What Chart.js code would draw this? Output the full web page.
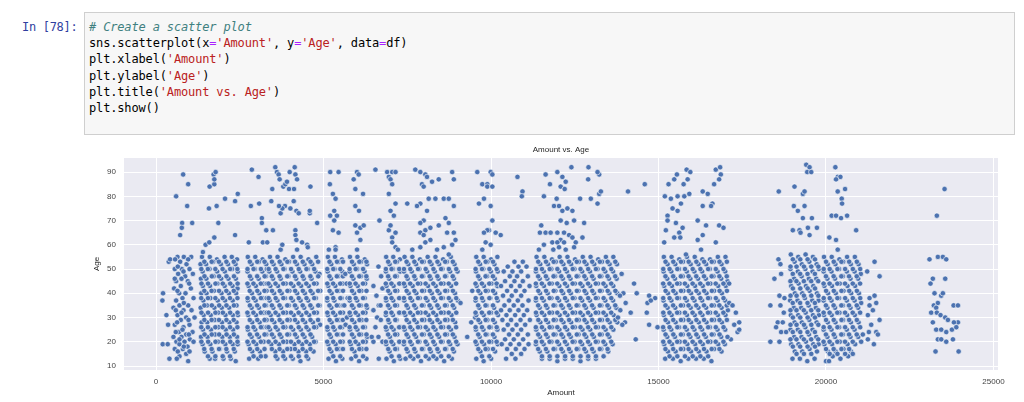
<!DOCTYPE html>
<html>
<head>
<meta charset="utf-8">
<script src="https://cdn.jsdelivr.net/npm/chart.js@4"></script>
<style>
  body { margin: 0; background: #fff; width: 1024px; height: 402px; overflow: hidden; position: relative; }
  .prompt { position: absolute; left: 22px; top: 19px; font: 12px/16.2px "DejaVu Sans Mono", monospace; letter-spacing: -0.3px; color: #303f9f; }
  .cell { position: absolute; left: 84px; top: 12px; width: 929px; height: 121px; background: #f7f7f7; border: 1px solid #cfcfcf; }
  .cell pre { margin: 0; position: absolute; left: 4px; top: 6px; font: 12px/16.2px "DejaVu Sans Mono", monospace; letter-spacing: -0.15px; color: #000; }
  .c { color: #408080; font-style: italic; }
  .s { color: #ba2121; }
  .o { color: #aa22ff; }
  #wrap { position: absolute; left: 84px; top: 140px; width: 931px; height: 262px; }
</style>
</head>
<body>
<div class="prompt">In [78]:</div>
<div class="cell"><pre><span class="c"># Create a scatter plot</span>
sns.scatterplot(x<span class="o">=</span><span class="s">'Amount'</span>, y<span class="o">=</span><span class="s">'Age'</span>, data<span class="o">=</span>df)
plt.xlabel(<span class="s">'Amount'</span>)
plt.ylabel(<span class="s">'Age'</span>)
plt.title(<span class="s">'Amount vs. Age'</span>)
plt.show()</pre></div>
<div id="wrap"><canvas id="scatter" width="931" height="262"></canvas></div>
<script>
// Axis setup
const chartTitle = "Amount vs. Age";
const xLabel = "Amount";
const yLabel = "Age";
const xTicks = [0, 5000, 10000, 15000, 20000, 25000];
const yTicks = [10, 20, 30, 40, 50, 60, 70, 80, 90];

// Points, [amount, age], grouped by amount band
// ~0-1200
const band1 = [[640,55],[830,55],[1050,55],[380,53],[720,53],[910,52],[560,50],[770,50],[1000,50],[660,48],[1100,48],[870,47],[600,45],[950,45],[740,43],[540,42],[1040,42],[210,40],[690,40],[880,40],[790,38],[1120,38],[190,37],[600,37],[960,35],[700,35],[520,34],[820,33],[1060,33],[310,31],[640,31],[900,30],[1150,30],[740,29],[360,27],[560,27],[1000,27],[820,26],[680,24],[1090,24],[900,23],[520,22],[760,22],[1010,21],[610,20],[850,20],[1120,20],[200,19],[350,19],[700,19],[940,18],[560,17],[800,17],[900,15],[700,14],[620,13],[400,13],[960,12],[420,54],[570,54],[960,54],
  [650,51],[820,49],[560,46],[760,46],[990,44],[640,41],[830,36],[590,33],[760,32],[970,29],[630,28],[790,25],[590,24],[980,23],[700,21],[830,18],[650,16],[1000,16],
  [810,89],[960,85],[600,80],[930,76],[780,69],[770,67],[720,64],[1080,69]];
// ~1300-2450
const band2 = [[1372,55],[1605,55],[1818,54],[2047,55],[2262,55],[2418,54],[1328,52],[1494,52],[1706,53],[1935,52],[2148,52],[2373,52],[1390,49],[1598,50],[1823,49],[2052,49],[2270,50],[2441,49],[1341,46],[1502,46],[1717,47],[1944,46],[2161,46],[2382,46],[1398,43],[1612,43],[1831,44],[2049,43],[2283,43],[2432,42],[1352,40],[1507,40],[1729,41],[1953,40],[2174,40],[2391,40],[1412,37],[1623,38],[1842,37],[2061,37],[2288,37],[1333,34],[1518,35],[1741,34],[1962,34],[2183,34],[2402,35],[1421,31],[1633,31],[1852,32],[2072,31],[2293,31],[2447,31],[1361,28],[1529,28],[1752,29],[1968,28],[2191,28],[2403,28],[1402,25],[1641,25],[1860,26],[2083,25],[2302,25],[1342,22],[1538,22],[1762,23],[1979,22],[2203,22],[2421,22],[1388,19],[1621,19],[1848,20],[2068,19],[2292,19],[2438,19],[1452,16],[1683,16],[1902,17],[2118,16],[2351,16],[1602,13],[1763,13],[2012,13],[2231,13],[2380,12],
  [1443,53],[1662,53],[1878,53],[2101,53],[2322,53],[1352,50],[1548,50],[1771,50],[1988,50],[2213,50],[2428,50],[1446,47],[1667,47],[1883,47],[2104,47],[2327,47],[1357,44],[1553,44],[1776,44],[1994,44],[2216,44],[2436,44],[1441,41],[1659,41],[1881,41],[2099,41],[2321,41],[1349,38],[1551,38],[1772,38],[1991,38],[2209,38],[2431,38],[1444,35],[1666,35],[1886,35],[2103,35],[2326,35],[1356,32],[1554,32],[1774,32],[1996,32],[2214,32],[2434,32],[1442,29],[1661,29],[1879,29],[2102,29],[2319,29],[1351,26],[1549,26],[1771,26],[1989,26],[2211,26],[2429,26],[1447,23],[1664,23],[1884,23],[2106,23],[2324,23],[1354,20],[1556,20],[1776,20],[1994,20],[2217,20],[2433,20],[1439,17],[1661,17],[1881,17],[2099,17],[2321,17],[1551,14],[1771,14],[1991,14],[2209,14],
  [1400,57],[1480,60],[1590,61],[1740,63],[1580,75],[1600,84],[1720,89],[1780,90],[1740,85],[1740,87],[1810,76],[1860,69],[2060,79],[2360,78],[2440,81],[2360,64]];
// ~2700-3300
const band3 = [[2740,55],[2962,55],[3181,54],[2852,52],[3071,53],[3290,52],[2731,49],[2950,50],[3172,49],[2841,46],[3063,46],[3281,47],[2762,43],[2980,43],[3202,44],[2861,40],[3082,40],[3300,41],[2743,37],[2971,37],[3190,38],[2852,34],[3070,34],[3282,35],[2751,31],[2983,31],[3211,32],[2870,28],[3092,28],[3301,29],[2742,25],[2961,25],[3180,26],[2853,22],[3072,22],[3290,23],[2762,19],[2991,19],[3212,20],[2871,16],[3102,16],[2780,13],[3050,13],[3270,14],
  [2801,53],[3022,53],[3241,53],[2731,50],[2912,50],[3131,50],[3308,50],[2803,47],[3019,47],[3243,47],[2729,44],[2909,44],[3128,44],[3311,44],[2798,41],[3024,41],[3238,41],[2733,38],[2913,38],[3133,38],[3306,38],[2802,35],[3021,35],[3242,35],[2728,32],[2908,32],[3129,32],[3309,32],[2799,29],[3023,29],[3239,29],[2732,26],[2911,26],[3132,26],[3307,26],[2801,23],[3018,23],[3241,23],[2730,20],[2912,20],[3130,20],[2803,17],[3022,17],[3239,17],[2912,14],[3131,14],
  [2770,61],[2860,91],[3060,88],[2830,76],[3080,77],[3160,71],[3160,69],[3190,61],[3320,61],[3290,66]];
// ~3350-4900
const band4 = [[3402,55],[3628,55],[3861,54],[4093,55],[4318,55],[4552,54],[4783,55],[3508,52],[3742,52],[3969,53],[4204,52],[4431,52],[4662,52],[3381,49],[3612,49],[3838,50],[4071,49],[4302,49],[4531,50],[4758,49],[4878,48],[3493,46],[3721,46],[3952,47],[4183,46],[4409,46],[4641,46],[3412,43],[3641,43],[3872,44],[4101,43],[4332,43],[4561,43],[4792,44],[3522,40],[3749,40],[3981,41],[4212,40],[4441,40],[4672,40],[4903,41],[3391,37],[3622,37],[3851,38],[4082,37],[4313,37],[4541,37],[4772,38],[3501,34],[3731,34],[3962,35],[4191,34],[4422,34],[4651,34],[4882,35],[3422,31],[3651,31],[3882,32],[4112,31],[4341,31],[4572,31],[4801,32],[3531,28],[3762,28],[3991,29],[4222,28],[4451,28],[4682,28],[4898,27],[3401,25],[3632,25],[3861,26],[4092,25],[4321,25],[4552,25],[4781,26],[3511,22],[3741,22],[3972,23],[4201,22],[4432,22],[4661,22],[3442,19],[3671,19],[3902,20],[4131,19],[4362,19],[4591,19],[4762,20],[3561,16],[3792,16],[4021,17],[4252,16],[4481,16],[4702,16],[3622,13],[3851,13],[4082,13],[4311,12],[4542,13],
  [3461,53],[3692,53],[3921,53],[4152,53],[4381,53],[4612,53],[4838,53],[3362,50],[3571,50],[3802,50],[4031,50],[4262,50],[4491,50],[4721,50],[3458,47],[3689,47],[3918,47],[4149,47],[4378,47],[4609,47],[4842,47],[3359,44],[3568,44],[3799,44],[4028,44],[4259,44],[4488,44],[4718,44],[3463,41],[3694,41],[3923,41],[4154,41],[4383,41],[4614,41],[4839,41],[3361,38],[3572,38],[3801,38],[4032,38],[4261,38],[4492,38],[4722,38],[3459,35],[3688,35],[3919,35],[4148,35],[4379,35],[4608,35],[4843,35],[3364,32],[3569,32],[3798,32],[4029,32],[4258,32],[4489,32],[4719,32],[3462,29],[3691,29],[3922,29],[4151,29],[4382,29],[4611,29],[4837,29],[3358,26],[3571,26],[3802,26],[4031,26],[4262,26],[4491,26],[4721,26],[3461,23],[3693,23],[3921,23],[4153,23],[4381,23],[4613,23],[3362,20],[3569,20],[3799,20],[4028,20],[4259,20],[4488,20],[4718,20],[3458,17],[3689,17],[3918,17],[4149,17],[4378,17],[4609,17],[3572,14],[3801,14],[4032,14],[4261,14],[4492,14],
  [3490,66],[3470,83],[3440,78],[3560,92],[3610,90],[3660,89],[3690,87],[3800,84],[3860,85],[3910,86],[3990,90],[4140,92],[4160,89],[4210,87],[3970,83],[4120,83],[4010,75],[4110,78],[4190,74],[4260,73],[3850,76],[3720,73],[3770,75],[3670,76],[4160,66],[4160,64],[4190,62],[4210,58],[3720,58],[3770,60],[4360,61],[4510,60],[4530,59],[4590,73],[4590,74],[4610,84],[4810,69]];
// ~5100-5600
const band5 = [[5130,55],[5342,55],[5551,54],[5231,52],[5452,53],[5122,49],[5331,50],[5560,49],[5222,46],[5441,47],[5141,43],[5352,43],[5570,44],[5240,40],[5461,41],[5112,37],[5322,37],[5541,38],[5232,34],[5450,35],[5131,31],[5352,31],[5580,32],[5240,28],[5462,29],[5121,25],[5330,25],[5551,26],[5220,22],[5441,23],[5142,19],[5361,19],[5570,20],[5232,16],[5460,17],[5150,13],[5372,12],[5561,13],
  [5181,53],[5402,53],[5582,53],[5111,50],[5291,50],[5502,50],[5179,47],[5399,47],[5579,47],[5113,44],[5288,44],[5499,44],[5182,41],[5403,41],[5583,41],[5110,38],[5292,38],[5503,38],[5178,35],[5398,35],[5581,35],[5114,32],[5289,32],[5501,32],[5183,29],[5401,29],[5578,29],[5112,26],[5291,26],[5498,26],[5180,23],[5402,23],[5582,23],[5109,20],[5290,20],[5502,20],[5181,17],[5399,17],[5580,17],[5291,14],[5501,14],
  [5200,90],[5450,90],[5190,85],[5280,81],[5360,79],[5320,74],[5200,72],[5400,72],[5320,70],[5280,66],[5450,65],[5360,59],[5360,58],[5160,58],
  [5650,48],[5690,44],[5620,35],[5700,30],[5660,27],[5720,38]];
// ~5770-6300
const band6 = [[5790,55],[6012,55],[6231,54],[5902,52],[6121,53],[6300,52],[5781,49],[6002,50],[6222,49],[5891,46],[6112,47],[6290,46],[5802,43],[6021,43],[6242,44],[5910,40],[6131,41],[5782,37],[6003,37],[6230,38],[5892,34],[6110,35],[6300,34],[5801,31],[6032,31],[6251,32],[5920,28],[6142,29],[5791,25],[6010,25],[6232,26],[5902,22],[6121,23],[6300,22],[5812,19],[6041,19],[6260,20],[5922,16],[6140,17],[5830,13],[6062,12],[6281,13],
  [5851,53],[6072,53],[6282,53],[5779,50],[5961,50],[6182,50],[5849,47],[6069,47],[6279,47],[5782,44],[5958,44],[6179,44],[5852,41],[6071,41],[6283,41],[5778,38],[5962,38],[6181,38],[5848,35],[6068,35],[6281,35],[5781,32],[5959,32],[6178,32],[5853,29],[6073,29],[6278,29],[5779,26],[5961,26],[6182,26],[5851,23],[6069,23],[6282,23],[5782,20],[5958,20],[6179,20],[5849,17],[6071,17],[6280,17],[5961,14],[6181,14],
  [5900,87],[6000,90],[6050,89],[5950,83],[6180,81],[5950,76],[6060,74],[5950,68],[6100,67],[6200,68],[6000,65],[6100,62],[6000,58]];
// ~6400-6760 sparse strip
const band7 = [[6490,43],[6580,39],[6650,35],[6490,33],[6700,35],[6600,30],[6710,29],[6550,26],[6640,22],[6760,42],[6720,47],[6640,51],[6490,20],[6440,22],[6650,13],[6550,91],[6670,70],[6760,20]];
// ~6850-7300
const band8 = [[6870,55],[7082,55],[7280,54],[6972,52],[7191,53],[6861,49],[7070,50],[7290,49],[6960,46],[7182,47],[6881,43],[7092,43],[7300,44],[6980,40],[7201,41],[6872,37],[7080,37],[7281,38],[6970,34],[7190,35],[6861,31],[7072,31],[7290,32],[6962,28],[7180,29],[6880,25],[7091,25],[7300,26],[6981,22],[7200,23],[6872,19],[7081,19],[7280,20],[6970,16],[7192,17],[6880,13],[7100,12],[7290,13],
  [6931,53],[7142,53],[6862,50],[7031,50],[7259,50],[6929,47],[7139,47],[6859,44],[7028,44],[7262,44],[6932,41],[7141,41],[6861,38],[7032,38],[7258,38],[6928,35],[7138,35],[6863,32],[7029,32],[7261,32],[6931,29],[7143,29],[6858,26],[7031,26],[7259,26],[6929,23],[7139,23],[6862,20],[7028,20],[7262,20],[6932,17],[7141,17],[7031,14],[7259,14],
  [6900,90],[7050,90],[7150,90],[6950,88],[7000,87],[7050,85],[6950,81],[7150,77],[7000,74],[7100,72],[6950,66],[7050,63],[7150,65],[7000,68],[7050,61],[7150,59],[7220,58]];
// ~7400-9000
const band9 = [[7420,55],[7652,55],[7881,54],[8110,55],[8342,55],[8571,54],[8800,55],[7530,52],[7761,52],[7990,53],[8222,52],[8450,52],[8681,53],[8910,52],[7400,49],[7632,49],[7860,50],[8091,49],[8320,49],[8552,50],[8780,49],[9000,49],[7512,46],[7740,46],[7971,47],[8200,46],[8432,46],[8660,47],[8891,46],[7430,43],[7662,43],[7890,44],[8121,43],[8350,43],[8582,44],[8810,43],[7541,40],[7770,40],[8002,41],[8230,40],[8461,40],[8690,41],[8922,40],[7410,37],[7641,37],[7872,38],[8100,37],[8331,37],[8560,38],[8792,37],[9010,37],[7520,34],[7752,34],[7980,35],[8211,34],[8440,34],[8672,35],[8900,34],[7442,31],[7670,31],[7901,32],[8130,31],[8362,31],[8590,32],[8821,31],[7550,28],[7781,28],[8010,29],[8242,28],[8470,28],[8701,29],[8930,28],[7421,25],[7650,25],[7882,26],[8110,25],[8341,25],[8570,26],[8802,25],[7530,22],[7762,22],[7990,23],[8221,22],[8450,22],[8682,23],[8910,22],[7400,19],[7631,19],[7860,20],[8092,19],[8320,19],[8551,20],[8780,19],[9000,19],[7511,16],[7740,16],[7972,17],[8200,16],[8431,16],[8660,17],[8892,16],[7450,13],[7681,13],[7910,12],[8142,13],[8370,13],[8601,12],[8830,13],
  [7481,53],[7712,53],[7941,53],[8172,53],[8401,53],[8632,53],[8861,53],[7402,50],[7591,50],[7822,50],[8051,50],[8282,50],[8511,50],[8742,50],[8962,50],[7478,47],[7709,47],[7938,47],[8169,47],[8398,47],[8629,47],[8858,47],[7399,44],[7588,44],[7819,44],[8048,44],[8279,44],[8508,44],[8739,44],[8959,44],[7483,41],[7714,41],[7943,41],[8174,41],[8403,41],[8634,41],[8863,41],[7401,38],[7592,38],[7821,38],[8052,38],[8281,38],[8512,38],[8741,38],[8961,38],[7479,35],[7708,35],[7939,35],[8168,35],[8399,35],[8628,35],[8859,35],[7404,32],[7589,32],[7818,32],[8049,32],[8278,32],[8509,32],[8738,32],[8963,32],[7482,29],[7711,29],[7942,29],[8171,29],[8402,29],[8631,29],[8862,29],[7398,26],[7591,26],[7822,26],[8051,26],[8282,26],[8511,26],[8741,26],[8958,26],[7481,23],[7713,23],[7941,23],[8173,23],[8401,23],[8633,23],[8861,23],[7402,20],[7589,20],[7819,20],[8048,20],[8279,20],[8508,20],[8738,20],[8962,20],[7478,17],[7709,17],[7938,17],[8169,17],[8398,17],[8629,17],[8858,17],[7592,14],[7821,14],[8052,14],[8281,14],[8512,14],[8741,14],
  [7740,91],[7890,90],[8040,89],[8090,88],[7940,85],[7990,84],[8240,86],[8440,87],[8840,90],[8890,87],[7500,77],[7890,77],[7790,76],[8140,79],[8340,79],[8590,79],[8740,79],[8890,76],[8090,74],[7990,70],[7890,69],[8040,66],[8190,67],[8440,68],[8640,71],[8740,69],[7890,65],[7990,64],[8190,62],[8690,65],[8890,65],[8940,62],[7890,59],[7650,58],[8390,58],[8590,59],[8840,60],[8040,61],[8740,56],
  [9090,36],[9440,41],[9410,28],[9290,22],[9530,30]];
// ~9540-10200
const band10 = [[9560,55],[9782,55],[10001,54],[10190,55],[9672,52],[9890,53],[10101,52],[9551,49],[9770,50],[9992,49],[10200,49],[9660,46],[9882,47],[10110,46],[9571,43],[9790,43],[10012,44],[10190,43],[9680,40],[9901,41],[10120,40],[9540,37],[9762,37],[9980,38],[10200,37],[9651,34],[9870,35],[10092,34],[9560,31],[9781,31],[10000,32],[10210,31],[9672,28],[9890,29],[10110,28],[9550,25],[9772,25],[9991,26],[10190,25],[9661,22],[9880,23],[10102,22],[9570,19],[9791,19],[10010,20],[10200,19],[9682,16],[9900,17],[10121,16],[9560,13],[9780,12],[10002,13],
  [9621,53],[9842,53],[10061,53],[9541,50],[9731,50],[9952,50],[10171,50],[9619,47],[9839,47],[10058,47],[9538,44],[9729,44],[9949,44],[10168,44],[9622,41],[9843,41],[10062,41],[9542,38],[9732,38],[9951,38],[10172,38],[9618,35],[9838,35],[10059,35],[9539,32],[9728,32],[9948,32],[10169,32],[9623,29],[9841,29],[10063,29],[9541,26],[9731,26],[9952,26],[10171,26],[9619,23],[9842,23],[10058,23],[9538,20],[9729,20],[9949,20],[10168,20],[9621,17],[9839,17],[10061,17],[9731,14],[9951,14],
  [9590,90],[9740,85],[9890,85],[9990,90],[10040,89],[9890,84],[10040,84],[9790,79],[9640,77],[9990,76],[9940,66],[9890,66],[9790,65],[10040,70],[10140,65],[10290,64],[9840,61],[9990,60],[9740,58]];
// ~10300-11200
const band11 = [[10700,53],[10950,53],[10500,51],[10820,51],[11060,51],[10380,49],[10640,49],[10900,49],[10560,47],[10780,47],[11100,47],[10420,45],[10700,45],[10950,45],[10300,43],[10600,43],[10860,43],[11150,43],[10480,41],[10740,41],[11000,41],[10360,39],[10620,39],[10900,39],[10540,37],[10800,37],[11120,37],[10400,35],[10680,35],[10940,35],[10300,33],[10560,33],[10820,33],[11080,33],[10460,31],[10720,31],[10980,31],[10340,29],[10600,29],[10880,29],[11160,29],[10500,27],[10760,27],[11020,27],[10380,25],[10640,25],[10900,25],[10540,23],[10800,23],[11100,23],[10420,21],[10680,21],[10960,21],[10320,19],[10580,19],[10840,19],[11120,19],[10480,17],[10740,17],[11000,17],[10620,15],[10900,15],[10450,13],[10730,13],
  [10790,88],[10940,82],[10920,80]];
// ~11330-14000
const band12 = [[11360,55],[11592,55],[11821,54],[12050,55],[12282,55],[12511,54],[12740,55],[12972,55],[13201,54],[13430,55],[13652,55],[11470,52],[11701,52],[11932,53],[12160,52],[12391,52],[12622,53],[12850,52],[13081,52],[13312,53],[13540,52],[13761,52],[11340,49],[11572,49],[11801,50],[12030,49],[12262,49],[12491,50],[12720,49],[12952,49],[13181,50],[13410,49],[13642,49],[11452,46],[11680,46],[11911,47],[12142,46],[12370,46],[12601,47],[12832,46],[13060,46],[13291,47],[13522,46],[13750,46],[11350,43],[11581,43],[11812,44],[12040,43],[12271,43],[12502,44],[12730,43],[12961,43],[13192,44],[13420,43],[13651,43],[11462,40],[11690,40],[11921,41],[12152,40],[12380,40],[12611,41],[12842,40],[13070,40],[13301,41],[13532,40],[13770,40],[11340,37],[11571,37],[11802,38],[12030,37],[12261,37],[12492,38],[12720,37],[12951,37],[13182,38],[13410,37],[13641,37],[11452,34],[11680,34],[11911,35],[12142,34],[12370,34],[12601,35],[12832,34],[13060,34],[13291,35],[13522,34],[13740,34],[11360,31],[11591,31],[11822,32],[12050,31],[12281,31],[12512,32],[12740,31],[12971,31],[13202,32],[13430,31],[13661,31],[11472,28],[11700,28],[11931,29],[12162,28],[12390,28],[12621,29],[12852,28],[13080,28],[13311,29],[13542,28],[13770,28],[11350,25],[11581,25],[11812,26],[12040,25],[12271,25],[12502,26],[12730,25],[12961,25],[13192,26],[13420,25],[13651,25],[11462,22],[11690,22],[11921,23],[12152,22],[12380,22],[12611,23],[12842,22],[13070,22],[13301,23],[13532,22],[11340,19],[11571,19],[11802,20],[12030,19],[12261,19],[12492,20],[12720,19],[12951,19],[13182,20],[13410,19],[13630,19],[11452,16],[11680,16],[11911,17],[12142,16],[12370,16],[12601,17],[12832,16],[13060,16],[13291,17],[13500,16],[11520,13],[11752,13],[11981,12],[12210,13],[12442,13],[12671,12],[12900,13],[13132,13],
  [11411,53],[11642,53],[11871,53],[12102,53],[12331,53],[12562,53],[12791,53],[13022,53],[13251,53],[13482,53],[13711,53],[11342,50],[11521,50],[11752,50],[11981,50],[12212,50],[12441,50],[12672,50],[12901,50],[13132,50],[13361,50],[13592,50],[11408,47],[11639,47],[11868,47],[12099,47],[12328,47],[12559,47],[12788,47],[13019,47],[13248,47],[13479,47],[13708,47],[11339,44],[11518,44],[11749,44],[11978,44],[12209,44],[12438,44],[12669,44],[12898,44],[13129,44],[13358,44],[13589,44],[11413,41],[11644,41],[11873,41],[12104,41],[12333,41],[12564,41],[12793,41],[13024,41],[13253,41],[13484,41],[13713,41],[11341,38],[11522,38],[11751,38],[11982,38],[12211,38],[12442,38],[12671,38],[12902,38],[13131,38],[13362,38],[13591,38],[11409,35],[11638,35],[11869,35],[12098,35],[12329,35],[12558,35],[12789,35],[13018,35],[13249,35],[13478,35],[13709,35],[11343,32],[11519,32],[11748,32],[11979,32],[12208,32],[12439,32],[12668,32],[12899,32],[13128,32],[13359,32],[13588,32],[11412,29],[11641,29],[11872,29],[12101,29],[12332,29],[12561,29],[12792,29],[13021,29],[13252,29],[13481,29],[13712,29],[11338,26],[11521,26],[11752,26],[11981,26],[12212,26],[12441,26],[12672,26],[12901,26],[13132,26],[13361,26],[13592,26],[11411,23],[11643,23],[11871,23],[12103,23],[12331,23],[12563,23],[12791,23],[13023,23],[13251,23],[13483,23],[11342,20],[11519,20],[11749,20],[11978,20],[12209,20],[12438,20],[12669,20],[12898,20],[13129,20],[13358,20],[13589,20],[11408,17],[11639,17],[11868,17],[12099,17],[12328,17],[12559,17],[12788,17],[13019,17],[13248,17],[13479,17],[11521,14],[11752,14],[11981,14],[12212,14],[12441,14],[12672,14],[12901,14],[13132,14],[13361,14],
  [12400,92],[12910,92],[11630,89],[11980,90],[12130,88],[12230,86],[11760,85],[12080,84],[12200,83],[11580,80],[11960,79],[11880,76],[12030,76],[12130,74],[12280,75],[12430,74],[12660,79],[12980,79],[13180,77],[13230,81],[13280,82],[13230,89],[13180,90],[12900,87],[12080,70],[12260,69],[12480,70],[12780,69],[11500,68],[11460,65],[11630,65],[11780,65],[11980,65],[12180,65],[12330,64],[12430,63],[12730,63],[12080,62],[11830,61],[11980,61],[11580,60],[12180,61],[12530,61],[11860,58],[12230,58],[11430,58],[12030,59],[12480,59],
  [13900,48],[13950,40],[13860,33],[14000,28]];
// ~13800-15000 sparse strip
const band13 = [[14090,82],[14590,85],[14270,44],[14350,40],[14720,39],[14900,38],[14670,36],[14770,37],[13850,39],[14020,36],[14170,32],[14650,32],[14720,27],[14970,26],[13920,27],[13790,30],[14320,21]];
// ~15130-17450
const band14 = [[15160,55],[15392,55],[15621,54],[15850,55],[16082,55],[16311,54],[16540,54],[16772,55],[17000,55],[15270,52],[15501,52],[15732,53],[15960,52],[16191,52],[16422,52],[16650,53],[16881,52],[15152,49],[15380,49],[15611,50],[15842,49],[16070,49],[16301,49],[16532,50],[16760,49],[16991,49],[15261,46],[15490,46],[15722,47],[15950,46],[16181,46],[16412,46],[16640,47],[16871,46],[17060,45],[15170,43],[15402,43],[15631,44],[15860,43],[16092,43],[16321,43],[16550,44],[16782,43],[17010,43],[15281,40],[15510,40],[15742,41],[15970,40],[16201,40],[16432,40],[16660,41],[16891,40],[15150,37],[15382,37],[15611,38],[15840,37],[16072,37],[16301,37],[16530,38],[16762,37],[16990,37],[15271,34],[15500,34],[15732,35],[15960,34],[16191,34],[16422,34],[16650,35],[16881,34],[17070,33],[15160,31],[15392,31],[15621,32],[15850,31],[16082,31],[16311,31],[16540,32],[16772,31],[17000,31],[15281,28],[15510,28],[15742,29],[15970,28],[16201,28],[16432,28],[16660,29],[16891,28],[15152,25],[15380,25],[15611,26],[15842,25],[16070,25],[16301,25],[16532,26],[16760,25],[16991,25],[15261,22],[15490,22],[15722,23],[15950,22],[16181,22],[16412,22],[16640,23],[16871,22],[15170,19],[15402,19],[15631,20],[15860,19],[16092,19],[16321,19],[16550,20],[16782,19],[16980,19],[15281,16],[15510,16],[15742,17],[15970,16],[16201,16],[16432,16],[16660,17],[16880,16],[15200,13],[15431,13],[15662,12],[15890,13],[16121,13],[16352,13],[16580,12],
  [15211,53],[15442,53],[15671,53],[15902,53],[16131,53],[16362,53],[16591,53],[16822,53],[17041,53],[15142,50],[15331,50],[15562,50],[15791,50],[16022,50],[16251,50],[16482,50],[16711,50],[16942,50],[15208,47],[15439,47],[15668,47],[15899,47],[16128,47],[16359,47],[16588,47],[16819,47],[17038,47],[15139,44],[15328,44],[15559,44],[15788,44],[16019,44],[16248,44],[16479,44],[16708,44],[16939,44],[15213,41],[15444,41],[15673,41],[15904,41],[16133,41],[16364,41],[16593,41],[16824,41],[17043,41],[15141,38],[15332,38],[15561,38],[15792,38],[16021,38],[16252,38],[16481,38],[16712,38],[16941,38],[15209,35],[15438,35],[15669,35],[15898,35],[16129,35],[16358,35],[16589,35],[16818,35],[17039,35],[15143,32],[15329,32],[15558,32],[15789,32],[16018,32],[16249,32],[16478,32],[16709,32],[16938,32],[15212,29],[15441,29],[15672,29],[15901,29],[16132,29],[16361,29],[16592,29],[16821,29],[17042,29],[15138,26],[15331,26],[15562,26],[15791,26],[16022,26],[16251,26],[16482,26],[16711,26],[16942,26],[15211,23],[15443,23],[15671,23],[15903,23],[16131,23],[16363,23],[16591,23],[16823,23],[15142,20],[15329,20],[15559,20],[15788,20],[16019,20],[16248,20],[16479,20],[16708,20],[16939,20],[15208,17],[15439,17],[15668,17],[15899,17],[16128,17],[16359,17],[16588,17],[16819,17],[15331,14],[15562,14],[15791,14],[16022,14],[16251,14],[16482,14],
  [15300,85],[15470,87],[15550,89],[15840,91],[15950,90],[15870,87],[15750,85],[15190,80],[15370,79],[15570,80],[15770,80],[15920,81],[16320,82],[16470,81],[16710,91],[16840,92],[16860,89],[16810,87],[16660,85],[16610,77],[16320,76],[16570,76],[15420,75],[15570,74],[15670,77],[15270,72],[15520,69],[15270,70],[15720,67],[15220,66],[15620,65],[16170,70],[16420,68],[16810,68],[16940,67],[15470,63],[15650,63],[15170,61],[16170,62],[16710,61],[16320,64],[16270,58],[15820,56],
  [17110,36],[17210,35],[17310,32],[17410,28],[17260,27],[17360,24],[17160,21],[17060,22],[17410,25],[17110,44]];
// ~18300-19800
const band15 = [[18950,56],[19172,55],[19391,56],[19610,55],[19062,53],[19280,52],[19501,53],[19722,52],[18940,50],[19161,49],[19382,50],[19600,49],[19790,50],[19050,46],[19271,47],[19490,46],[19712,46],[18962,43],[19180,44],[19401,43],[19620,43],[19070,40],[19292,40],[19510,41],[19731,40],[18930,37],[19152,37],[19371,38],[19590,37],[19780,37],[19041,34],[19260,34],[19482,35],[19700,34],[18950,31],[19171,31],[19392,32],[19610,31],[19790,31],[19062,28],[19280,28],[19501,29],[19722,28],[18940,25],[19161,25],[19382,26],[19600,25],[19050,22],[19271,22],[19490,23],[19712,22],[18962,19],[19180,19],[19401,20],[19620,19],[19780,19],[19070,16],[19292,16],[19510,17],[19731,16],[19000,13],[19221,13],[19442,12],[19660,13],
  [19011,54],[19232,54],[19451,54],[19672,54],[18941,51],[19121,51],[19342,51],[19561,51],[19771,51],[19009,48],[19229,48],[19448,48],[19669,48],[18938,45],[19118,45],[19339,45],[19558,45],[19768,45],[19012,42],[19233,42],[19452,42],[19673,42],[18942,39],[19122,39],[19341,39],[19562,39],[19772,39],[19008,36],[19228,36],[19449,36],[19668,36],[18939,33],[19119,33],[19338,33],[19559,33],[19769,33],[19013,30],[19231,30],[19453,30],[19671,30],[18941,27],[19121,27],[19342,27],[19561,27],[19771,27],[19009,24],[19232,24],[19448,24],[19669,24],[18938,21],[19118,21],[19339,21],[19558,21],[19768,21],[19011,18],[19229,18],[19451,18],[19672,18],[19121,15],[19342,15],[19561,15],
  [18590,82],[19060,84],[19310,81],[19360,82],[19040,76],[19160,74],[19310,71],[19360,76],[19580,71],[19010,66],[19210,66],[19460,67],[19730,67],[19240,65],[19510,64],[19410,93],[19510,92],[19440,90],[19560,90],
  [18580,54],[18640,52],[18660,48],[18460,46],[18610,39],[18760,38],[18340,35],[18640,35],[18740,32],[18560,28],[18510,26],[18660,24],[18340,20],[18610,20],[18810,24],[18710,28]];
// ~19900-21600
const band16 = [[19940,55],[20172,55],[20401,54],[20630,55],[20862,55],[20050,52],[20281,52],[20512,53],[20740,52],[20971,52],[19930,49],[20162,49],[20391,50],[20620,49],[20852,49],[21040,48],[20041,46],[20270,46],[20502,47],[20730,46],[20961,46],[19952,43],[20180,43],[20411,44],[20642,43],[20870,43],[20060,40],[20291,40],[20522,41],[20750,40],[20981,40],[19930,37],[20162,37],[20391,38],[20620,37],[20852,37],[21050,36],[20041,34],[20270,34],[20502,35],[20730,34],[20961,34],[19942,31],[20170,31],[20401,32],[20632,31],[20860,31],[20051,28],[20282,28],[20510,29],[20741,28],[20972,28],[19930,25],[20162,25],[20391,26],[20620,25],[20852,25],[20041,22],[20270,22],[20502,23],[20730,22],[20961,22],[19952,19],[20180,19],[20411,20],[20642,19],[20870,19],[20060,16],[20291,16],[20522,17],[20750,16],[20200,14],[20431,13],[20662,14],[20000,12],[20090,12],
  [20001,53],[20232,53],[20461,53],[20692,53],[20921,53],[19931,50],[20111,50],[20342,50],[20571,50],[20802,50],[21021,50],[19999,47],[20229,47],[20458,47],[20689,47],[20918,47],[19928,44],[20108,44],[20339,44],[20568,44],[20799,44],[21018,44],[20003,41],[20233,41],[20462,41],[20693,41],[20922,41],[19932,38],[20112,38],[20341,38],[20572,38],[20801,38],[21022,38],[19998,35],[20228,35],[20459,35],[20688,35],[20919,35],[19929,32],[20109,32],[20338,32],[20569,32],[20798,32],[21019,32],[20002,29],[20231,29],[20463,29],[20691,29],[20921,29],[19931,26],[20111,26],[20342,26],[20571,26],[20801,26],[21021,26],[19999,23],[20232,23],[20458,23],[20689,23],[20918,23],[19928,20],[20108,20],[20339,20],[20568,20],[20799,20],[20001,17],[20229,17],[20461,17],[20692,17],[20111,15],[20342,15],[20571,15],
  [20280,92],[20350,88],[20430,88],[20300,87],[20350,82],[20570,83],[20470,79],[20480,77],[20170,72],[20300,72],[20450,71],[20630,72],[20900,66],[20100,63],[20300,62],[20350,58],
  [21450,53],[21230,49],[21600,47],[21300,38],[21450,39],[21500,36],[21300,35],[21400,33],[21250,31],[21600,29],[21350,27],[21500,24],[21280,24],[21550,23],[21100,23],[21430,19],[21250,21],[21050,20],[20800,15]];
// ~23000-24000
const band17 = [[23540,83],[23310,72],[23090,54],[23340,55],[23490,55],[23590,54],[23190,46],[23120,44],[23560,46],[23240,40],[23440,39],[23490,40],[23220,35],[23340,36],[23290,34],[23810,35],[23940,35],[23140,32],[23310,32],[23420,31],[23560,30],[23640,29],[23190,28],[23940,28],[23820,28],[23290,25],[23440,25],[23590,24],[23760,25],[23890,26],[23340,21],[23440,21],[23590,20],[23790,21],[23270,16],[23960,16]];

const allPoints = [].concat(band1, band2, band3, band4, band5, band6, band7, band8, band9,
  band10, band11, band12, band13, band14, band15, band16, band17);

const fontFamily = '"Liberation Sans", Arial, sans-serif';

// Plot background + centred title
const sbStyle = {
  id: "sbStyle",
  beforeDraw(chart) {
    const { ctx, chartArea: a } = chart;
    ctx.save();
    ctx.fillStyle = "#eaeaf2";
    ctx.fillRect(a.left, a.top, a.right - a.left, a.bottom - a.top);
    ctx.restore();
  },
  afterDraw(chart) {
    const { ctx, chartArea: a } = chart;
    ctx.save();
    ctx.font = "8px " + fontFamily;
    ctx.fillStyle = "#262626";
    ctx.textAlign = "center";
    ctx.textBaseline = "middle";
    ctx.fillText(chartTitle, (a.left + a.right) / 2, 10);
    ctx.restore();
  }
};

new Chart(document.getElementById("scatter"), {
  type: "scatter",
  data: {
    datasets: [{
      label: "Age",
      data: allPoints.map(p => ({ x: p[0], y: p[1] })),
      backgroundColor: "#4c72b0",
      borderColor: "#ffffff",
      borderWidth: 0.6,
      pointRadius: 2.7,
      pointHoverRadius: 2.7
    }]
  },
  plugins: [sbStyle],
  options: {
    responsive: false,
    animation: false,
    events: [],
    layout: { padding: { top: 18, right: 17, left: 0, bottom: 0 } },
    plugins: { legend: { display: false }, tooltip: { enabled: false }, title: { display: false } },
    scales: {
      x: {
        type: "linear",
        min: -956,
        max: 25135,
        afterBuildTicks: s => { s.ticks = xTicks.map(v => ({ value: v })); },
        afterFit: s => { s.height = 32; },
        border: { display: false },
        grid: { color: "#ffffff", lineWidth: 1, drawTicks: false },
        ticks: { font: { size: 8, family: fontFamily }, color: "#444", padding: 7, maxRotation: 0, callback: v => String(v) },
        title: { display: true, text: xLabel, font: { size: 8, family: fontFamily }, color: "#262626", padding: { top: 0, bottom: 4 } }
      },
      y: {
        type: "linear",
        min: 8.35,
        max: 95.8,
        afterBuildTicks: s => { s.ticks = yTicks.map(v => ({ value: v })); },
        afterFit: s => { s.width = 40; },
        border: { display: false },
        grid: { color: "#ffffff", lineWidth: 1, drawTicks: false },
        ticks: { font: { size: 8, family: fontFamily }, color: "#444", padding: 8, callback: v => String(v) },
        title: { display: true, text: yLabel, font: { size: 8, family: fontFamily }, color: "#262626", padding: { top: 8, bottom: 0 } }
      }
    }
  }
});
</script>
</body>
</html>
